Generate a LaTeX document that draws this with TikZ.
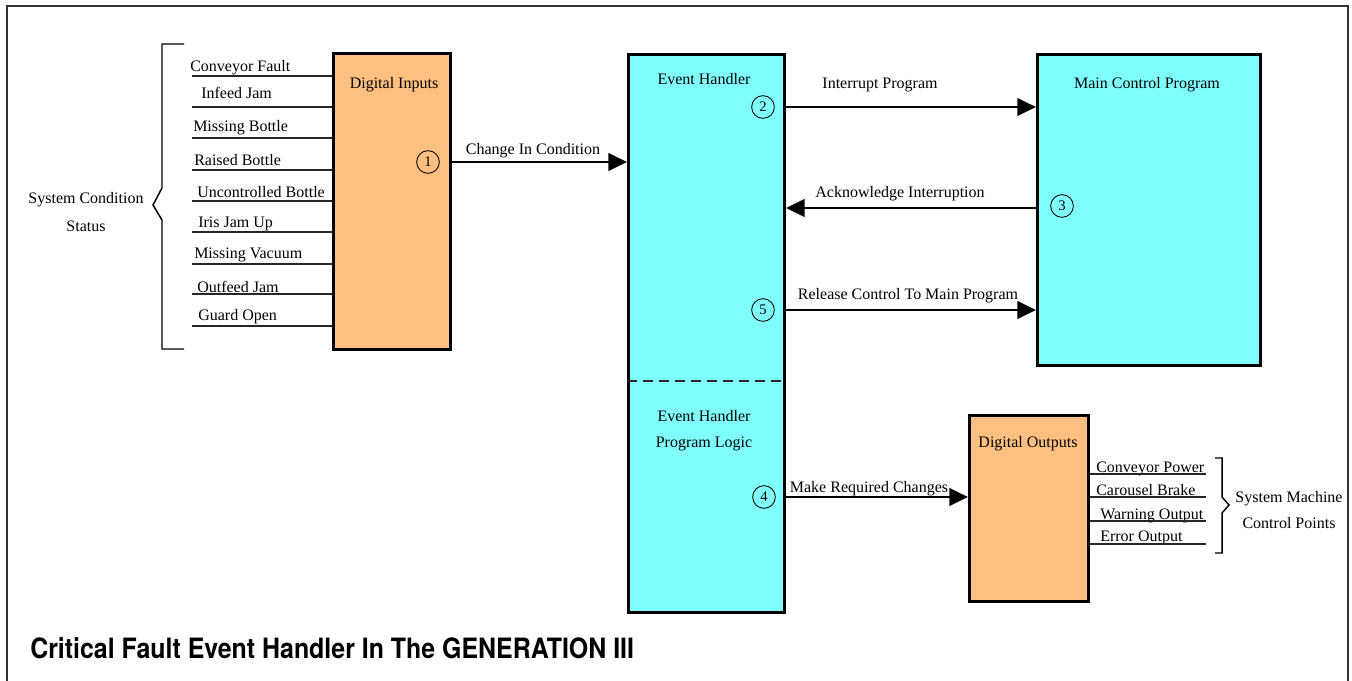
\documentclass[tikz,border=0pt]{standalone}
\usepackage{fontspec}
\setmainfont{Liberation Serif}
\newfontfamily\titlefont[FakeStretch=0.89]{TeX Gyre Heros}
\usetikzlibrary{arrows.meta}
\definecolor{orng}{HTML}{FFBF80}
\definecolor{cyn}{HTML}{80FFFF}
\tikzset{
  blk/.style={draw=black, line width=2.2pt, inner sep=0pt, anchor=north west},
  lbl/.style={inner sep=0pt, font=\fontsize{12}{14}\selectfont, anchor=base},
  lblw/.style={lbl, anchor=base west},
  num/.style={draw, circle, line width=0.65pt, minimum size=17pt, inner sep=0pt, font=\fontsize{11}{11}\selectfont},
  arr/.style={line width=2.2pt, -{Triangle[length=14pt,width=13pt]}},
  thin/.style={line width=0.8pt, draw=black!85},
}
\begin{document}
\begin{tikzpicture}[x=0.75pt,y=-0.75pt]
\useasboundingbox (0,0) rectangle (1352,681);
% outer frame
\draw[line width=0.9pt, black!80] (7,681) -- (7,6) -- (1348,6) -- (1348,681);

% boxes
\node[blk, fill=orng, minimum width={117*0.75pt}, minimum height={296*0.75pt}] (di) at (332,52) {};
\node[blk, fill=cyn, minimum width={156*0.75pt}, minimum height={558*0.75pt}] (eh) at (627,53) {};
\node[blk, fill=cyn, minimum width={223*0.75pt}, minimum height={311*0.75pt}] (mcp) at (1036,53) {};
\node[blk, fill=orng, minimum width={119*0.75pt}, minimum height={186*0.75pt}] (dout) at (968,414) {};

% box titles
\node[lbl] (tdi) at (394,89) {Digital Inputs};
\node[lbl] (teh) at (704,85) {Event Handler};
\node[lbl] (tmcp) at (1147,89) {Main Control Program};
\node[lbl] (tdo) at (1028,447) {Digital Outputs};
\node[lbl] (tpl1) at (704,421) {Event Handler};
\node[lbl] (tpl2) at (704,447) {Program Logic};

% dashed divider
\draw[thin, dash pattern=on 7.5pt off 4.5pt] (eh.west |- 0,381) -- (eh.east |- 0,381);

% numbered circles
\node[num] (c1) at (428,162) {1};
\node[num] (c2) at (763,107) {2};
\node[num] (c3) at (1062,206) {3};
\node[num] (c4) at (764,497) {4};
\node[num] (c5) at (763,310) {5};

% arrows
\coordinate (ya) at (0,208);
\draw[arr] (c1 -| di.east) -- (c1 -| eh.west);
\draw[arr] (c2 -| eh.east) -- (c2 -| mcp.west);
\draw[arr] (ya -| mcp.west) -- (ya -| eh.east);
\draw[arr] (c5 -| eh.east) -- (c5 -| mcp.west);
\draw[arr] (c4 -| eh.east) -- (c4 -| dout.west);

\node[lbl] (lchg) at (533,155) {Change In Condition};
\node[lbl] (lint) at (880,89) {Interrupt Program};
\node[lbl] (lack) at (900,197) {Acknowledge Interruption};
\node[lbl] (lrel) at (908,299) {Release Control To Main Program};
\node[lbl] (lmak) at (869,492) {Make Required Changes};

% inputs
\foreach \n/\t/\x/\yb/\yl in {
  i1/Conveyor Fault/190/72/76,
  i2/Infeed Jam/201/99/107,
  i3/Missing Bottle/193/132/138,
  i4/Raised Bottle/194/166/170,
  i5/Uncontrolled Bottle/197/197/201,
  i6/Iris Jam Up/198/227/232,
  i7/Missing Vacuum/194/258/264,
  i8/Outfeed Jam/197/292/294,
  i9/Guard Open/198/320/326}{
  \node[lblw] (\n) at (\x,\yb) {\t};
  \coordinate (\n l) at (192,\yl);
  \draw[thin] (\n l) -- (\n l -| di.west);
}
% left bracket
\coordinate (bt) at (184,44);
\coordinate (bb) at (184,349);
\draw[line width=1.1pt] (bt) -- (162,44) -- (162,188) -- (153,205) -- (162,220) -- (162,349) -- (bb);
\node[lbl] (sc1) at (86,203) {System Condition};
\node[lbl] (sc2) at (86,231) {Status};

% outputs
\foreach \n/\t/\x/\yb/\yl in {
  o1/Conveyor Power/1096/472/474,
  o2/Carousel Brake/1096/495/497,
  o3/Warning Output/1100/519/521,
  o4/Error Output/1100/541/544}{
  \node[lblw] (\n) at (\x,\yb) {\t};
  \coordinate (\n l) at (1206,\yl);
  \draw[thin] (\n l -| dout.east) -- (\n l);
}
% right bracket
\draw[line width=1.1pt] (1215,458) -- (1222,458) -- (1222,497) -- (1229,505) -- (1222,513) -- (1222,553) -- (1215,553);
\node[lbl] (sm1) at (1289,502) {System Machine};
\node[lbl] (sm2) at (1289,528) {Control Points};

% title
\node[anchor=base west, inner sep=0pt, font=\titlefont\bfseries\fontsize{21}{24}\selectfont] (title) at (30,658) {Critical Fault Event Handler In The GENERATION III};
\end{tikzpicture}
\end{document}
